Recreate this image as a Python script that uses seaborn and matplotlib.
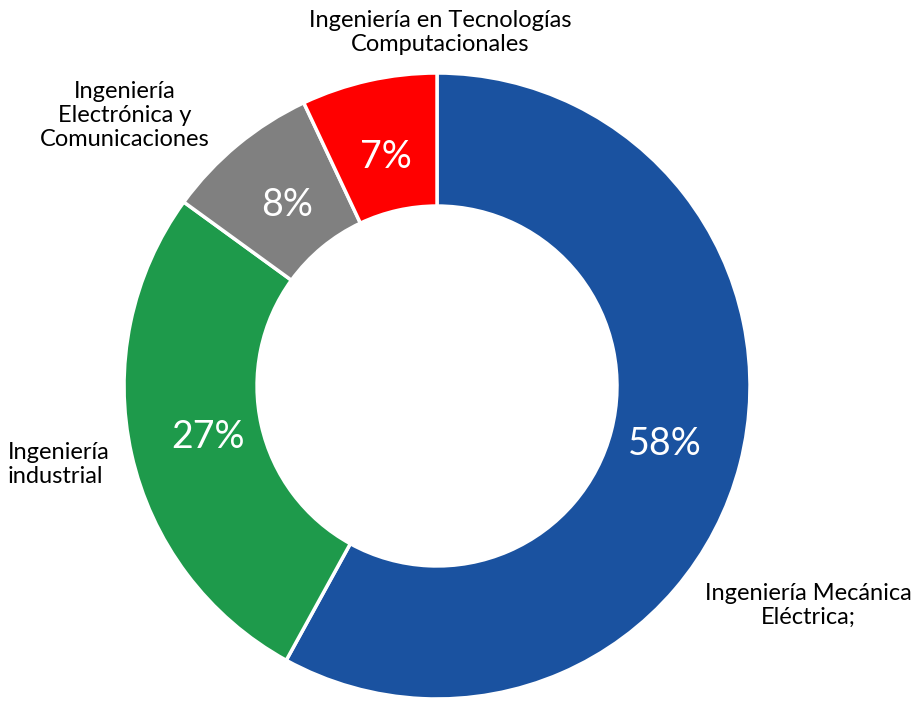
import matplotlib
matplotlib.use("Agg")
import matplotlib.pyplot as plt
import seaborn as sns

# Datos del gráfico
carreras = [
    "Ingeniería Mecánica\nEléctrica;",
    "Ingeniería\nindustrial",
    "Ingeniería\nElectrónica y\nComunicaciones",
    "Ingeniería en Tecnologías\nComputacionales",
]
porcentajes = [58, 27, 8, 7]
colores = ["#1A52A0", "#1E9A4B", "#808080", "#FF0000"]

# posiciones de las etiquetas (coordenadas del eje) y alineación
label_pos = [(1.185, -0.70), (-1.371, -0.25), (-0.997, 0.865), (0.01, 1.128)]
label_ha = ["center", "left", "center", "center"]

sns.set_theme(style="white")
plt.rcParams["font.family"] = ["Lato", "DejaVu Sans"]

fig = plt.figure(figsize=(9.16, 7.02), dpi=100)
ax = fig.add_axes([0.1354, 0.0043, 0.6834, 0.8917])

wedges, texts, autotexts = ax.pie(
    porcentajes,
    colors=colores,
    startangle=90,
    counterclock=False,
    radius=1.0,
    autopct="%d%%",
    pctdistance=0.75,
    wedgeprops=dict(width=0.425, edgecolor="white", linewidth=2.5),
    textprops=dict(color="white", fontsize=27),
)

for (x, y), ha, txt in zip(label_pos, label_ha, carreras):
    ax.text(x, y, txt, ha=ha, va="center", fontsize=17, color="black",
            linespacing=1.18)

ax.set_xlim(-1, 1)
ax.set_ylim(-1, 1)
ax.axis("off")

fig.savefig("out.png", dpi=100, facecolor="white")
